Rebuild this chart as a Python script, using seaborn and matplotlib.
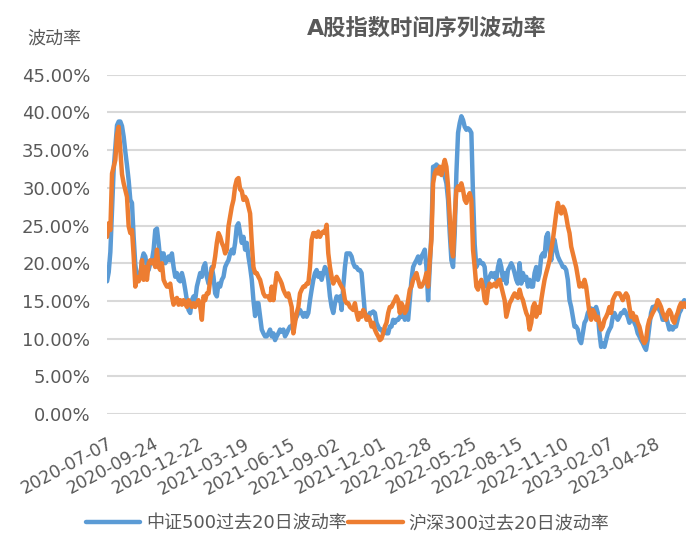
import numpy as np
import pandas as pd
import seaborn as sns
import matplotlib.pyplot as plt
from matplotlib.ticker import FuncFormatter, MultipleLocator

zz500 = [
    17.6, 18.8, 21.5, 27, 32.5, 35.5, 38.3, 38.8, 38.8, 38.2, 36.8, 34.8, 33, 31, 28.4, 28,
    23.5, 19.8, 18.2, 18.7, 18.2, 20.4, 21.3, 20.9, 19.5, 19.1, 20, 20.4, 21.8, 24.4, 24.6, 22.7,
    20.4, 21.3, 21.3, 20, 20.4, 20.9, 20.4, 21.3, 19.5, 18.2, 18.7, 17.8, 17.6, 18.7, 17.8, 16.5,
    15.1, 13.8, 13.4, 15.1, 15.6, 15.1, 16.9, 17.8, 18.7, 18.2, 19.5, 20, 18.2, 17.3, 18.2, 19.5,
    18.2, 16, 15.6, 17.3, 16.9, 17.8, 18.2, 19.5, 20, 20.4, 21.3, 21.8, 21.3, 22.7, 24.9, 25.3,
    24, 22.7, 23.5, 21.8, 22.7, 20.9, 19.5, 17.8, 15.1, 13, 14.7, 14.7, 12.9, 11.2, 10.7, 10.3,
    10.3, 10.7,
    11.2, 10.3, 10.7, 9.8, 10.3, 10.7, 11.2, 10.9, 11.2, 10.3, 10.7, 11.2, 11.6, 11.6, 12.1, 12.5,
    12.9, 13.4, 13.8, 13.4, 12.9, 13.4, 12.9, 13.4, 15.1, 16.5, 17.8, 18.7, 19.1, 18.2, 18.7, 17.8,
    18.7, 19.5, 19.1, 17.8, 15.6, 14.2, 13.4, 14.7, 15.6, 15.1, 15.6, 13.8, 16.9, 19.5, 21.3, 21.3,
    21.3, 20.9,
    20, 19.5, 19.5, 19.1, 19.1, 18.7, 16, 13.4, 12.9, 12.5, 13.4, 13.4, 13.6, 13.4, 12.1, 11.6,
    11.2, 11.2, 10.7, 11.2, 10.7, 10.7, 11.6, 11.6, 12.5, 12.1, 12.5, 12.5, 12.9, 12.9, 13.4, 12.5,
    12.9, 12.5, 15.1, 17.8, 19.5, 20, 20.4, 20.9, 20, 20.9, 21.3, 21.8, 19.5, 15.1, 19.5, 24,
    32.8, 32.8,
    33.1, 32.8, 32.4, 31.9, 32.4, 31.5, 30.6, 28.4, 24, 20.4, 19.5, 24, 31.9, 37.3, 38.6, 39.5,
    39, 38.1, 37.7, 37.9, 37.7, 37.3, 29, 22.5, 19.5, 20, 20.4, 20, 20, 19.5, 16.9, 17.8,
    18.2, 18.7, 18.2, 18.7, 17.8, 19.5, 20.4, 19.5, 17.8, 18.7, 17.3, 19.1, 19.5, 20, 19.5, 18.7,
    17.8, 17.3,
    20, 17.3, 18.7, 17.8, 18.2, 16.9, 17.8, 16.9, 16.9, 18.7, 19.5, 17.8, 18.7, 20.9, 21.3, 20.9,
    23.5, 24, 21.8, 20.4, 22.2, 23.1, 21.8, 20.9, 20.4, 20, 19.5, 19.5, 19.1, 17.8, 15.1, 14.2,
    12.9, 11.6, 11.6, 11.2, 9.8, 9.4, 10.7, 12.1, 12.5, 13.4, 13.8, 14, 13.8, 13.8, 14.2, 13.4,
    10.7, 8.9,
    9.4, 8.9, 9.8, 10.7, 11.2, 11.6, 12.9, 13.4, 12.9, 12.5, 12.9, 13.4, 13.4, 13.8, 13.4, 12.9,
    12.1, 12.5, 12.9, 12.1, 11.6, 10.7, 10.3, 9.8, 9.4, 8.9, 8.5, 9.8, 11.6, 13.4, 14.2, 14.2,
    14.4, 14.2, 13.8, 13.4, 12.5, 12.5, 12.9, 12.1, 11.2, 11.6, 11.2, 11.6, 11.6, 12.5, 13.4, 13.8,
    14.7, 15.1, 14.7,
]

hs300 = [
    23.5, 25.3, 24.4, 31.9, 32.8, 33.7, 37, 38.1, 35, 31.8, 30.6, 29.7, 28.8, 24.9, 24, 24.4,
    21, 16.9, 18.2, 17.6, 18.2, 20.4, 17.8, 19.5, 17.8, 20, 20.4, 20, 20.4, 19.5, 21.8, 19.5,
    19.1, 20, 17.8, 17.3, 16.9, 16.9, 17.3, 15.6, 14.5, 15.1, 15.4, 14.5, 15.1, 14.5, 15.1, 14.7,
    14.2, 15.1, 14.7, 14.2, 14.7, 14.2, 14.7, 15.1, 14.2, 12.5, 15.6, 15.1, 16, 16, 17.8, 19.1,
    19.5, 20.9, 22.7, 24, 23.5, 22.7, 22.2, 21.3, 21.8, 24.9, 26.2, 27.5, 28.4, 30.2, 31.1, 31.3,
    29.8, 29.6, 28.4, 28.8, 28.4, 27.5, 26.6, 22.7, 19.5, 18.7, 18.7, 18.2, 17.8, 16.9, 16, 15.6,
    15.6, 15.6,
    15.1, 16.9, 15.1, 16.9, 18.7, 18.2, 17.8, 17.3, 16.5, 16, 15.6, 16, 15.1, 14.2, 10.7, 12.1,
    13.4, 14.2, 16, 16.5, 16.9, 16.9, 17.3, 17.3, 19.5, 23.1, 24, 24, 23.5, 24.2, 23.5, 24,
    24.2, 24, 25.1, 21.3, 19.5, 18.2, 17.3, 17.8, 18.2, 17.8, 17.3, 16.9, 16.5, 15.1, 14.7, 14.7,
    14.2, 14,
    13.8, 14.7, 13.4, 12.5, 13.4, 12.9, 13.8, 13.4, 12.5, 12.9, 12.5, 11.6, 12.1, 11.2, 10.7, 10.3,
    9.8, 10, 10.7, 11.6, 12.1, 13.4, 14.2, 14.2, 14.7, 15.1, 15.6, 15.1, 13.4, 14.7, 14.2, 13.4,
    13.8, 15.1, 16.5, 16.9, 17.8, 18.2, 18.7, 17.8, 16.9, 16.9, 17.3, 17.8, 18.7, 16.9, 20.4, 23.1,
    30.6, 31.9,
    32.4, 31.9, 32.8, 31.7, 32.8, 33.7, 32.8, 30.2, 26.2, 22.2, 20.9, 26.2, 29.7, 30.2, 29.7, 30.6,
    29.7, 28.4, 28, 28.8, 29.3, 28.4, 21.8, 19.5, 16.9, 16.5, 17.3, 17.8, 16.9, 15.1, 14.7, 16.5,
    17.3, 16.9, 17.1, 17.3, 16.9, 17.6, 17.8, 16.9, 16, 15.1, 12.9, 13.8, 14.7, 15.1, 15.6, 16,
    15.6, 15.4,
    16.5, 15.6, 15.1, 14.2, 13.4, 12.9, 11.2, 12.1, 14.2, 14.7, 12.9, 14.2, 13.4, 15.1, 16.5, 17.8,
    18.7, 19.5, 20.4, 21.8, 23.1, 24.9, 26.6, 28, 27.1, 26.6, 27.5, 27.1, 26.2, 24.9, 24, 22.2,
    21.3, 20.4, 19.5, 18.2, 16.9, 17.3, 16.9, 17.8, 16.9, 15.1, 13.4, 12.5, 13.8, 13.4, 12.5, 12.9,
    12.1, 11.2,
    11.6, 12.5, 12.9, 13.4, 14.2, 13.4, 15.1, 15.6, 16, 16, 16, 15.6, 15.1, 15.6, 16, 15.6,
    14.2, 12.9, 13.4, 12.5, 12.9, 12.1, 11.6, 10.7, 9.8, 9.4, 9.8, 11.6, 12.5, 12.9, 13.4, 13.8,
    14.2, 15.1, 14.7, 14.2, 13.4, 12.9, 12.5, 13.4, 13.8, 13.4, 12.5, 12.1, 12.9, 13.4, 14.2, 14.7,
    14.2, 14.7, 14.2,
]

tick_dates = ["2020-07-07", "2020-09-24", "2020-12-22", "2021-03-19", "2021-06-15",
              "2021-09-02", "2021-12-01", "2022-02-28", "2022-05-25", "2022-08-15",
              "2022-11-10", "2023-02-07", "2023-04-28"]
series_names = ["中证500过去20日波动率", "沪深300过去20日波动率"]

n_days = 698        # trading days spanned by the chart
tick_step = 55      # label every 55 trading days

sns.set_theme(style="white")
plt.rcParams["font.family"] = ["DejaVu Sans", "Noto Sans CJK SC"]
text_color = "#595959"

day = np.linspace(0, n_days - 1, len(zz500))
df = pd.DataFrame({
    "day": np.concatenate([day, day]),
    "vol": zz500 + hs300,
    "series": [series_names[0]] * len(zz500) + [series_names[1]] * len(hs300),
})

fig = plt.figure(figsize=(6.95, 5.38), dpi=100)
ax = fig.add_axes([0.154, 0.2305, 0.833, 0.6305])

sns.lineplot(data=df, x="day", y="vol", hue="series", palette=["#5B9BD5", "#ED7D31"],
             linewidth=3.2, estimator=None, sort=False, ax=ax)

ax.set_xlim(0, n_days - 1)
ax.set_ylim(0, 45)
ax.yaxis.set_major_locator(MultipleLocator(5))
ax.yaxis.set_major_formatter(FuncFormatter(lambda v, _: f"{v:.2f}%"))
ax.set_xticks(np.arange(len(tick_dates)) * tick_step)
ax.set_xticklabels(tick_dates, rotation=28, ha="right", va="top", rotation_mode="anchor")
ax.tick_params(axis="x", length=0, labelsize=12.5, labelcolor=text_color, pad=15)
ax.tick_params(axis="y", length=0, labelsize=13, labelcolor=text_color, pad=12)
ax.set_xlabel("")
ax.set_ylabel("")
ax.yaxis.grid(True, color="#D9D9D9", linewidth=1.5)
ax.set_axisbelow(True)
for s in ax.spines.values():
    s.set_visible(False)

ax.legend_.remove()
handles, labels = ax.get_legend_handles_labels()
fig.legend(handles, labels, loc="lower center", bbox_to_anchor=(0.5, -0.02), ncol=2,
           frameon=False, fontsize=13, handlelength=3, handletextpad=0.3,
           columnspacing=0.1, labelcolor=text_color)

fig.text(0.614, 0.948, "A股指数时间序列波动率", ha="center", va="center",
         fontsize=16, fontweight="bold", color=text_color)
fig.text(0.039, 0.929, "波动率", ha="left", va="center", fontsize=13, color=text_color)

fig.savefig("out.png", dpi=100)
